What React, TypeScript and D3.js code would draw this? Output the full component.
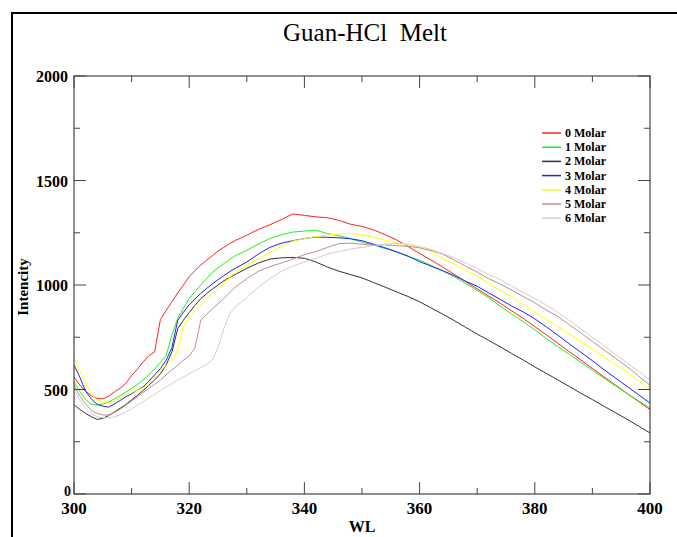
import React from 'react';
import * as d3 from 'd3';

// wavelength grid: 1 nm steps up to 328, then 2 nm steps
const WL = [
  300, 301, 302, 303, 304, 305, 306, 307, 308, 309, 310, 311, 312, 313, 314, 315, 316, 317, 318, 319,
  320, 321, 322, 323, 324, 325, 326, 327, 328,
  330, 332, 334, 336, 338, 340, 342, 344, 346, 348, 350, 352, 354, 356, 358, 360, 362, 364, 366, 368,
  370, 372, 374, 376, 378, 380, 382, 384, 386, 388, 390, 392, 394, 396, 398, 400,
];

const molar0 = [
  560, 522, 492, 470, 458, 455, 468, 488, 506, 530, 566, 598, 632, 662, 680, 835, 878, 920, 962, 1000,
  1040, 1068, 1095, 1118, 1140, 1162, 1180, 1198, 1213,
  1238, 1266, 1288, 1313, 1340, 1333, 1326, 1322, 1309, 1291, 1280, 1264, 1241, 1216, 1184, 1151, 1119, 1086, 1051, 1016,
  982, 947, 913, 876, 840, 801, 762, 721, 681, 641, 601, 561, 521, 481, 443, 404,
];
const molar1 = [
  536, 492, 452, 430, 425, 430, 440, 455, 470, 488, 505, 524, 546, 570, 598, 630, 662, 760, 840, 890,
  935, 968, 1000, 1030, 1060, 1082, 1102, 1122, 1140,
  1166, 1196, 1222, 1240, 1253, 1258, 1262, 1246, 1236, 1222, 1205, 1191, 1174, 1158, 1137, 1119, 1094, 1067, 1040, 1007,
  974, 939, 899, 861, 824, 786, 744, 705, 668, 630, 593, 555, 518, 481, 446, 411,
];
const molar2 = [
  426, 405, 386, 370, 357, 362, 375, 392, 410, 428, 450, 472, 495, 520, 546, 575, 618, 680, 790, 832,
  868, 902, 934, 958, 980, 1000, 1020, 1036, 1050,
  1080, 1105, 1124, 1130, 1132, 1128, 1110, 1086, 1066, 1050, 1034, 1012, 990, 967, 945, 920, 890, 861, 830, 797,
  765, 735, 704, 672, 641, 608, 577, 546, 514, 482, 452, 420, 389, 358, 325, 292,
];
const molar3 = [
  617, 560, 492, 455, 430, 420, 416, 430, 447, 465, 480, 497, 512, 540, 570, 600, 640, 700, 830, 870,
  905, 933, 960, 983, 1005, 1025, 1045, 1063, 1080,
  1110, 1148, 1180, 1200, 1212, 1222, 1230, 1228, 1226, 1221, 1212, 1195, 1178, 1159, 1138, 1112, 1090, 1069, 1045, 1018,
  994, 962, 931, 899, 871, 838, 800, 760, 718, 678, 638, 595, 555, 515, 475, 435,
];
const molar4 = [
  650, 590, 530, 480, 450, 438, 435, 445, 458, 472, 485, 497, 508, 530, 560, 590, 615, 640, 690, 800,
  850, 878, 905, 933, 960, 985, 1010, 1036, 1060,
  1095, 1125, 1155, 1185, 1210, 1222, 1232, 1238, 1245, 1248, 1240, 1228, 1215, 1201, 1190, 1178, 1160, 1126, 1100, 1070,
  1042, 1006, 975, 944, 906, 871, 834, 800, 768, 729, 694, 656, 620, 583, 540, 498,
];
const molar5 = [
  520, 470, 430, 400, 385, 378, 378, 390, 405, 425, 445, 465, 485, 505, 525, 545, 570, 595, 615, 640,
  660, 700, 830, 860, 885, 910, 935, 962, 990,
  1030, 1065, 1088, 1105, 1125, 1145, 1160, 1180, 1198, 1200, 1195, 1190, 1192, 1188, 1185, 1178, 1165, 1148, 1120, 1090,
  1062, 1030, 1005, 975, 945, 915, 880, 850, 810, 770, 730, 690, 650, 610, 565, 521,
];
const molar6 = [
  500, 450, 410, 385, 370, 365, 364, 368, 378, 392, 408, 425, 442, 460, 478, 495, 512, 528, 545, 560,
  575, 590, 605, 620, 640, 700, 790, 860, 895,
  940, 990, 1030, 1065, 1090, 1110, 1128, 1148, 1160, 1172, 1180, 1188, 1195, 1200, 1195, 1185, 1170, 1150, 1130, 1105,
  1078, 1050, 1025, 995, 965, 935, 905, 870, 830, 790, 750, 710, 668, 628, 588, 545,
];

const seriesNames = ['0 Molar', '1 Molar', '2 Molar', '3 Molar', '4 Molar', '5 Molar', '6 Molar'];
const seriesValues = [molar0, molar1, molar2, molar3, molar4, molar5, molar6];
const seriesColors = ['#ff2020', '#20ee20', '#333333', '#2020ff', '#ffff00', '#bc8f8f', '#cfcfcf'];

const xTicks = [300, 310, 320, 330, 340, 350, 360, 370, 380, 390, 400];
const yTicks = [0, 250, 500, 750, 1000, 1250, 1500, 1750, 2000];

export default function App() {
  const W = 677;
  const H = 537;
  const left = 74, right = 650, top = 76, bottom = 494;

  const x = d3.scaleLinear().domain([300, 400]).range([left, right]);
  const y = d3.scaleLinear().domain([0, 2000]).range([bottom, top]);

  const line = d3.line<number>()
    .x((d, i) => x(WL[i]))
    .y(d => y(d));

  const serif = '"Liberation Serif", "Times New Roman", serif';

  return (
    <svg width={W} height={H} style={{ position: 'absolute', left: 0, top: 0, background: '#fff' }}>
      {/* outer page frame */}
      <line x1={11} y1={13} x2={W} y2={13} stroke="#000" strokeWidth={2} />
      <line x1={12} y1={13} x2={12} y2={H} stroke="#000" strokeWidth={2} />

      <text x={365} y={41} textAnchor="middle" fontFamily={serif} fontSize={25} style={{ whiteSpace: 'pre' }}>Guan-HCl  Melt</text>

      {/* series */}
      {seriesValues.map((vals, k) => (
        <path key={k} d={line(vals) || ''} fill="none" stroke={seriesColors[k]} strokeWidth={1} />
      ))}

      {/* plot frame */}
      <rect x={left} y={top} width={right - left} height={bottom - top} fill="none" stroke="#444" strokeWidth={1.2} />

      {/* x ticks, inward on top and bottom */}
      {xTicks.map(t => {
        const len = t % 20 === 0 ? 12 : 6;
        return (
          <g key={'x' + t}>
            <line x1={x(t)} x2={x(t)} y1={bottom} y2={bottom - len} stroke="#444" />
            <line x1={x(t)} x2={x(t)} y1={top} y2={top + len} stroke="#444" />
            {t % 20 === 0 && (
              <text x={x(t)} y={514} textAnchor="middle" fontFamily={serif} fontWeight="bold" fontSize={17}>{t}</text>
            )}
          </g>
        );
      })}

      {/* y ticks, inward on left and right */}
      {yTicks.map(t => {
        const len = t % 500 === 0 ? 12 : 6;
        return (
          <g key={'y' + t}>
            <line x1={left} x2={left + len} y1={y(t)} y2={y(t)} stroke="#444" />
            <line x1={right} x2={right - len} y1={y(t)} y2={y(t)} stroke="#444" />
            {t % 500 === 0 && (
              <text x={t === 0 ? 71 : 68} y={y(t) + (t === 0 ? 2 : 6)} textAnchor="end" fontFamily={serif} fontWeight="bold" fontSize={t === 0 ? 14 : 16}>{t}</text>
            )}
          </g>
        );
      })}

      <text x={362} y={532} textAnchor="middle" fontFamily={serif} fontWeight="bold" fontSize={16}>WL</text>
      <text transform="translate(28,287) rotate(-90)" textAnchor="middle" fontFamily={serif} fontWeight="bold" fontSize={15}>Intencity</text>

      {/* legend */}
      {seriesNames.map((name, k) => {
        const ly = 133 + k * 14.2;
        return (
          <g key={name}>
            <line x1={542} x2={561} y1={ly} y2={ly} stroke={seriesColors[k]} strokeWidth={1.5} />
            <text x={565} y={ly + 4} fontFamily={serif} fontWeight="bold" fontSize={12}>{name}</text>
          </g>
        );
      })}
    </svg>
  );
}
